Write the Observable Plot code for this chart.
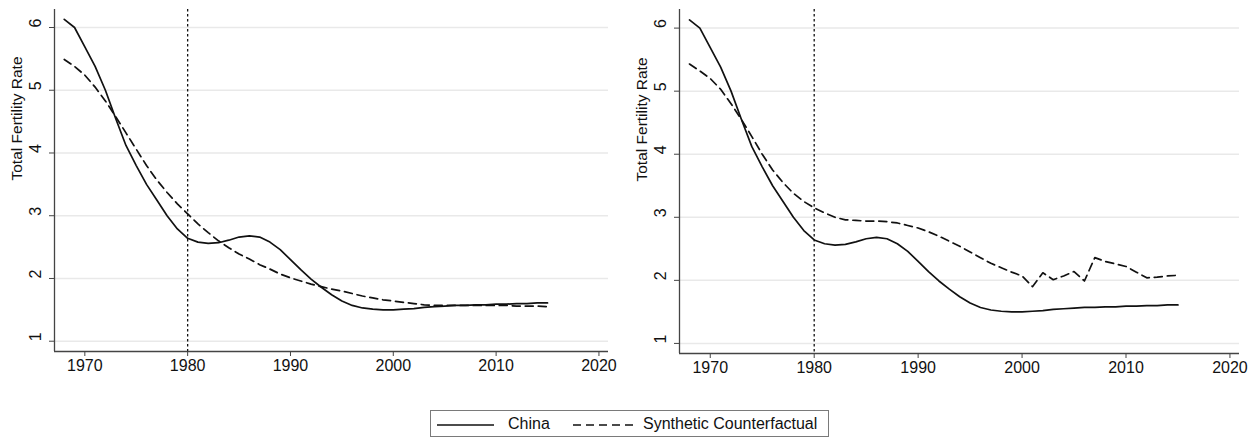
<!DOCTYPE html>
<html>
<head>
<meta charset="utf-8">
<script src="https://cdn.jsdelivr.net/npm/d3@7"></script>
<script src="https://cdn.jsdelivr.net/npm/@observablehq/plot@0.6"></script>
<style>
  html, body { margin: 0; padding: 0; background: #fff; }
  body { width: 1256px; height: 439px; position: relative; overflow: hidden; font-family: Arial, "Liberation Sans", sans-serif; }
  #left { position: absolute; left: 0; top: 0; }
  #right { position: absolute; left: 620px; top: 0; }
  #legend { position: absolute; left: 430px; top: 410px; width: 399px; height: 27px; border: 1px solid #7a7a7a; box-sizing: border-box; }
  #legend .lbl { position: absolute; top: 4px; font-size: 16px; color: #111; line-height: 18px; }
  #legend svg { position: absolute; left: 0; top: 0; }
</style>
</head>
<body>
<div id="left"></div>
<div id="right"></div>
<div id="legend"></div>
<script>
const years = d3.range(1968, 2016);
const xTicks = [1970, 1980, 1990, 2000, 2010, 2020];
const yTicks = [1, 2, 3, 4, 5, 6];
const treatmentYear = 1980;
const yLabel = "Total Fertility Rate";
const seriesNames = ["China", "Synthetic Counterfactual"];

// China (same in both panels), 1968–2015
const china = [6.13, 6.0, 5.69, 5.38, 5.0, 4.55, 4.12, 3.8, 3.5, 3.25,
  3.0, 2.79, 2.64, 2.58, 2.56, 2.57, 2.61, 2.66, 2.68, 2.66,
  2.58, 2.46, 2.3, 2.14, 1.99, 1.86, 1.74, 1.64, 1.57, 1.53,
  1.51, 1.5, 1.5, 1.51, 1.52, 1.54, 1.55, 1.56, 1.57, 1.57,
  1.58, 1.58, 1.59, 1.59, 1.6, 1.6, 1.61, 1.61];

// Synthetic counterfactual, left panel
const synthLeft = [5.49, 5.38, 5.24, 5.05, 4.83, 4.58, 4.32, 4.06, 3.8, 3.57,
  3.37, 3.19, 3.03, 2.87, 2.73, 2.6, 2.49, 2.39, 2.31, 2.22,
  2.15, 2.07, 2.01, 1.96, 1.91, 1.87, 1.83, 1.8, 1.76, 1.72,
  1.69, 1.66, 1.64, 1.62, 1.6, 1.58, 1.57, 1.57, 1.57, 1.57,
  1.57, 1.57, 1.57, 1.57, 1.56, 1.56, 1.56, 1.55];

// Synthetic counterfactual, right panel
const synthRight = [5.43, 5.32, 5.2, 5.03, 4.8, 4.55, 4.28, 4.0, 3.75, 3.55,
  3.38, 3.25, 3.15, 3.07, 3.0, 2.96, 2.95, 2.94, 2.94, 2.93,
  2.91, 2.87, 2.83, 2.77, 2.7, 2.62, 2.54, 2.45, 2.36, 2.27,
  2.2, 2.13, 2.07, 1.9, 2.12, 2.01, 2.07, 2.14, 1.99, 2.36,
  2.3, 2.26, 2.22, 2.13, 2.04, 2.05, 2.07, 2.08];

function panel(synth, opts) {
  const dChina = years.map((y, i) => ({year: y, v: china[i]}));
  const dSynth = years.map((y, i) => ({year: y, v: synth[i]}));
  const svg = Plot.plot({
    width: opts.width,
    height: 395,
    marginLeft: opts.ml,
    marginRight: opts.mr,
    marginTop: opts.mt,
    marginBottom: opts.mb,
    style: {fontFamily: "Arial, 'Liberation Sans', sans-serif", fontSize: "16px", color: "#111", background: "#fff"},
    x: {domain: opts.xd, ticks: xTicks},
    y: {domain: opts.yd},
    marks: [
      Plot.ruleY(yTicks, {y: d => d, stroke: "#e9e9e9", strokeWidth: 1.5}),
      Plot.ruleX([treatmentYear], {stroke: "#111", strokeWidth: 1.3, strokeDasharray: "2.5,2.5"}),
      Plot.line(dSynth, {x: "year", y: "v", stroke: "#111", strokeWidth: 1.7, strokeDasharray: "8,5"}),
      Plot.line(dChina, {x: "year", y: "v", stroke: "#111", strokeWidth: 1.7}),
      Plot.ruleX([opts.xd[0]], {stroke: "#444", strokeWidth: 1.3}),
      Plot.ruleY([opts.yd[0]], {stroke: "#444", strokeWidth: 1.3}),
      Plot.axisX({ticks: xTicks, tickSize: 5, tickPadding: 3, tickFormat: d => String(d), label: null, fontSize: 16, stroke: "#444"}),
      Plot.axisY({ticks: yTicks, tickSize: 5, tickFormat: () => "", label: null, stroke: "#444"}),
      Plot.text(yTicks, {y: d => d, text: d => String(d), frameAnchor: "left", dx: -19, rotate: -90, fontSize: 16, fill: "#111"}),
      Plot.text([yLabel], {text: d => d, frameAnchor: "left", dx: -37, rotate: -90, fontSize: 15.5, fill: "#111"})
    ]
  });
  d3.select(svg).selectAll("text")
    .style("font-family", "Arial, 'Liberation Sans', sans-serif")
    .style("font-size", function() { return this.textContent === yLabel ? "15.5px" : "16px"; });
  return svg;
}

document.getElementById("left").appendChild(panel(synthLeft, {
  width: 620, ml: 54, mr: 12, mt: 9, mb: 44,
  xd: [1967.05, 2020.93], yd: [0.836, 6.287]
}));
document.getElementById("right").appendChild(panel(synthRight, {
  width: 636, ml: 59, mr: 17, mt: 9, mb: 42,
  xd: [1967.04, 2020.92], yd: [0.84, 6.295]
}));

// Legend
const legend = document.getElementById("legend");
const ns = "http://www.w3.org/2000/svg";
const sw = document.createElementNS(ns, "svg");
sw.setAttribute("width", "397"); sw.setAttribute("height", "25");
const styles = [{x1: 6, x2: 63, dash: null}, {x1: 142, x2: 202, dash: "8,5"}];
styles.forEach(s => {
  const l = document.createElementNS(ns, "line");
  l.setAttribute("x1", s.x1); l.setAttribute("x2", s.x2);
  l.setAttribute("y1", 14); l.setAttribute("y2", 14);
  l.setAttribute("stroke", "#111"); l.setAttribute("stroke-width", "1.6");
  if (s.dash) l.setAttribute("stroke-dasharray", s.dash);
  sw.appendChild(l);
});
legend.appendChild(sw);
[[77, seriesNames[0]], [212, seriesNames[1]]].forEach(([x, t]) => {
  const s = document.createElement("span");
  s.className = "lbl"; s.style.left = x + "px"; s.textContent = t;
  legend.appendChild(s);
});
</script>
</body>
</html>
